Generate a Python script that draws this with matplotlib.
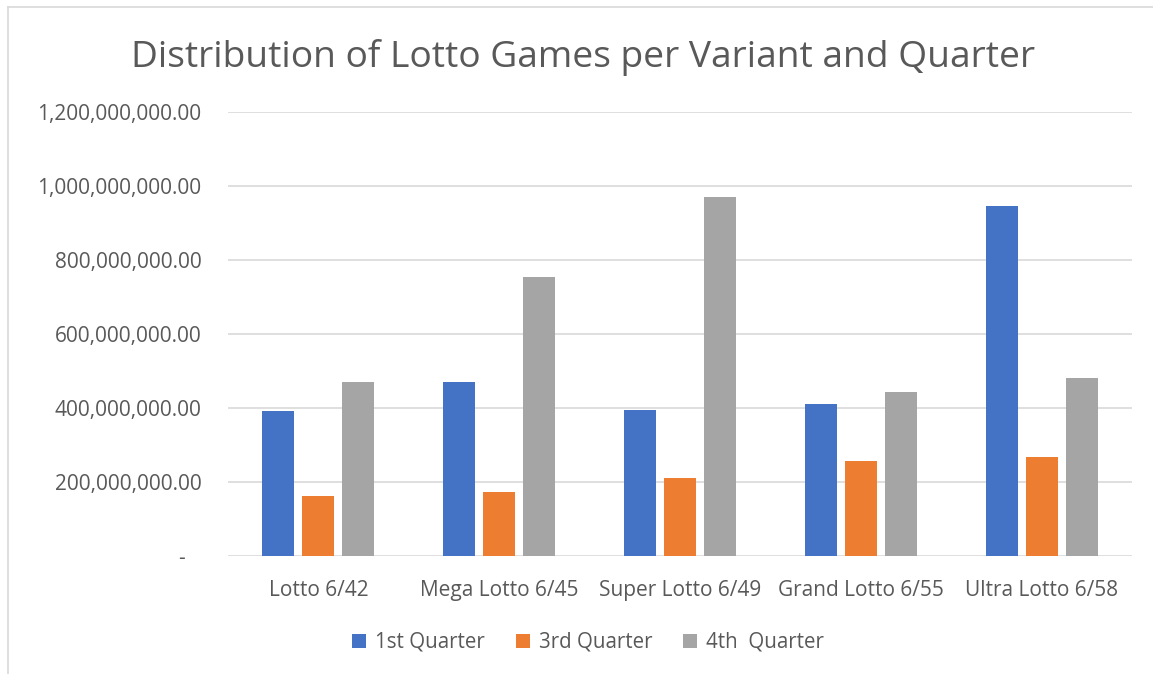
import numpy as np
import matplotlib
matplotlib.use('Agg')
import matplotlib.pyplot as plt
from matplotlib.lines import Line2D
from matplotlib.ticker import FuncFormatter

# Data
variants = ['Lotto 6/42', 'Mega Lotto 6/45', 'Super Lotto 6/49', 'Grand Lotto 6/55', 'Ultra Lotto 6/58']
q1 = [392e6, 469e6, 395e6, 412e6, 947e6]
q3 = [161e6, 172e6, 211e6, 256e6, 267e6]
q4 = [469e6, 753e6, 970e6, 444e6, 482e6]
series_names = ['1st Quarter', '3rd Quarter', '4th  Quarter']
colors = ['#4472C4', '#ED7D31', '#A5A5A5']

plt.rcParams['font.family'] = ['Open Sans', 'DejaVu Sans']
txt = '#595959'

fig = plt.figure(figsize=(11.53, 6.74), dpi=100)
ax = fig.add_axes([0.1977, 0.175, 0.7843, 0.659])

x = np.arange(len(variants))
w = 0.177
off = 0.221
for i, vals in enumerate([q1, q3, q4]):
    ax.bar(x + (i - 1) * off, vals, width=w, color=colors[i], label=series_names[i], zorder=3)

ax.set_xlim(-0.5, len(variants) - 0.5)
ax.set_ylim(0, 1.2e9)
ax.set_yticks(np.arange(0, 1.2e9 + 1, 2e8))

def fmt(v, pos):
    if v == 0:
        return '-   '
    return '{:,.2f}'.format(v)

ax.yaxis.set_major_formatter(FuncFormatter(fmt))
ax.grid(axis='y', color='#D9D9D9', linewidth=1.2, zorder=0)
for s in ax.spines.values():
    s.set_visible(False)
ax.tick_params(axis='both', length=0, colors=txt, labelsize=15)
ax.tick_params(axis='y', pad=19)
ax.tick_params(axis='x', pad=17)
ax.set_xticks(x)
ax.set_xticklabels(variants)

fig.text(0.506, 0.915, 'Distribution of Lotto Games per Variant and Quarter',
         ha='center', va='center', fontsize=26.7, color=txt)

fig.legend(loc='center', bbox_to_anchor=(0.51, 0.047), ncol=3, frameon=False,
           fontsize=14.8, labelcolor=txt, handlelength=0.68, handleheight=0.68,
           handletextpad=0.45, columnspacing=1.5)

# chart border (left and top edges only, as in the reference)
fig.lines.append(Line2D([0.0068, 0.0068], [0.0, 0.99], transform=fig.transFigure,
                        color='#D9D9D9', linewidth=1.2))
fig.lines.append(Line2D([0.0068, 1.0], [0.99, 0.99], transform=fig.transFigure,
                        color='#D9D9D9', linewidth=1.2))

fig.savefig('out.png', dpi=100)
